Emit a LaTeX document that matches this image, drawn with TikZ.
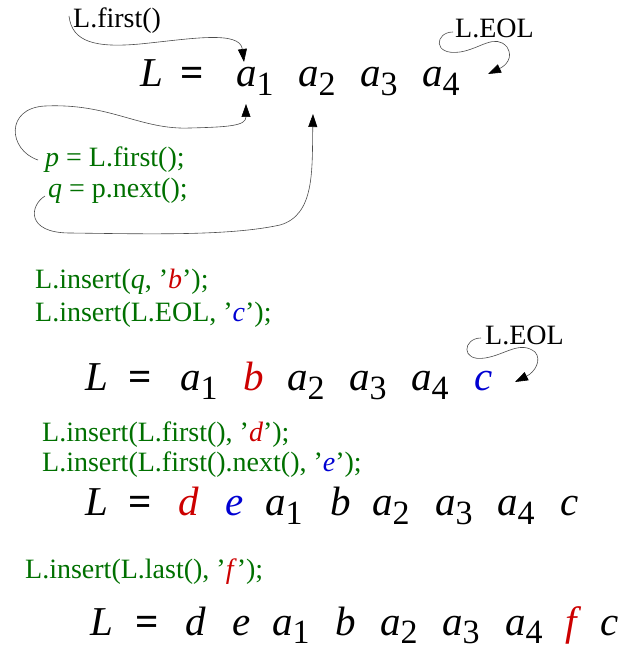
\documentclass[tikz,border=0pt]{standalone}
\usepackage{fontspec}
\setmainfont{Liberation Serif}
\usetikzlibrary{arrows.meta}
\definecolor{cgreen}{RGB}{0,112,0}
\definecolor{cred}{RGB}{204,0,0}
\definecolor{cblue}{RGB}{0,0,210}
\newcommand{\bigf}{\fontsize{41}{41}\selectfont}
\newcommand{\subf}{\fontsize{34}{34}\selectfont}
\newcommand{\labf}{\fontsize{28}{28}\selectfont}
\newcommand{\asub}[1]{\textit{a}\raisebox{-9pt}{\subf #1}}
\newcommand{\asubl}[1]{\textit{a}\raisebox{-8pt}{\subf #1}}
\newcommand{\eqs}{\textbf{=}}
\begin{document}
\begin{tikzpicture}[x=1pt,y=-1pt,
  sym/.style={anchor=base west,inner sep=0pt,font=\bigf},
  lab/.style={anchor=base west,inner sep=0pt,font=\labf},
  code/.style={lab,text=cgreen},
  conn/.style={line width=0.6pt,black!70},
  tip/.style={-{Triangle[length=13pt,width=9pt,color=black]}}]
\useasboundingbox (0,0) rectangle (619,650);
% Row 1
\node[sym] (r1L) at (140,87) {\textit{L}};
\node[sym] (r1eq) at (180,87) {\eqs};
\node[sym] (r1a1) at (236,87) {\asub{1}};
\node[sym] (r1a2) at (298,87) {\asub{2}};
\node[sym] (r1a3) at (360,87) {\asub{3}};
\node[sym] (r1a4) at (422,87) {\asub{4}};
\node[lab] (lfirst) at (73,28) {L.first()};
\node[lab] (leol1) at (455,38) {L.EOL};
\node[code] (cp) at (45,166) {\textit{p} = L.first();};
\node[code] (cq) at (48,197) {\textit{q} = p.next();};
% connectors row 1
\coordinate (s1) at (69,16);
\coordinate (t1) at (244,62);
\draw[conn,tip] (s1) .. controls (72,42) and (95,48) .. (140,44)
  .. controls (190,39) and (240,30) .. (t1);
\coordinate (s2) at (38,160);
\coordinate (t2) at (246,104);
\draw[conn,tip] (s2) .. controls (8,150) and (5,108) .. (45,106)
  .. controls (110,103) and (140,130) .. (190,128)
  .. controls (228,127) and (246,126) .. (t2);
\coordinate (s3) at (45,196);
\coordinate (t3) at (313,114);
\draw[conn,tip] (s3) .. controls (30,205) and (25,233) .. (70,233)
  .. controls (150,234) and (230,236) .. (280,225)
  .. controls (315,215) and (312,170) .. (t3);
\coordinate (s4) at (453,32);
\coordinate (t4) at (488,74);
\draw[conn,tip] (s4) .. controls (435,32) and (432,56) .. (460,52)
  .. controls (480,49) and (495,33) .. (507,47)
  .. controls (514,58) and (505,66) .. (t4);
% Row 2
\node[code] (c2a) at (35,288) {L.insert(\textit{q}, ’\textcolor{cred}{\textit{b}}’);};
\node[code] (c2b) at (35,321) {L.insert(L.EOL, ’\textcolor{cblue}{\textit{c}}’);};
\node[lab] (leol2) at (485,344) {L.EOL};
\node[sym] (r2L) at (85,390) {\textit{L}};
\node[sym] (r2eq) at (128,390) {\eqs};
\node[sym] (r2a1) at (180,390) {\asub{1}};
\node[sym,text=cred] (r2b) at (243,390) {\textit{b}};
\node[sym] (r2a2) at (287,390) {\asub{2}};
\node[sym] (r2a3) at (349,390) {\asub{3}};
\node[sym] (r2a4) at (411,390) {\asub{4}};
\node[sym,text=cblue] (r2c) at (474,390) {\textit{c}};
\coordinate (s5) at (481,338);
\coordinate (t5) at (515,382);
\draw[conn,tip] (s5) .. controls (463,338) and (460,362) .. (485,358)
  .. controls (505,355) and (520,340) .. (535,352)
  .. controls (542,360) and (535,372) .. (t5);
% Row 3
\node[code] (c3a) at (42,441) {L.insert(L.first(), ’\textcolor{cred}{\textit{d}}’);};
\node[code] (c3b) at (42,471) {L.insert(L.first().next(), ’\textcolor{cblue}{\textit{e}}’);};
\node[sym] (r3L) at (85,515) {\textit{L}};
\node[sym] (r3eq) at (128,515) {\eqs};
\node[sym,text=cred] (r3d) at (178,515) {\textit{d}};
\node[sym,text=cblue] (r3e) at (225,515) {\textit{e}};
\node[sym] (r3a1) at (265,515) {\asub{1}};
\node[sym] (r3b) at (330,515) {\textit{b}};
\node[sym] (r3a2) at (372,515) {\asub{2}};
\node[sym] (r3a3) at (435,515) {\asub{3}};
\node[sym] (r3a4) at (497,515) {\asub{4}};
\node[sym] (r3c) at (560,515) {\textit{c}};
% Row 4
\node[code] (c4) at (25,578) {L.insert(L.last(), ’\textcolor{cred}{\textit{f}}’);};
\node[sym] (r4L) at (90,635) {\textit{L}};
\node[sym] (r4eq) at (135,635) {\eqs};
\node[sym] (r4d) at (185,635) {\textit{d}};
\node[sym] (r4e) at (232,635) {\textit{e}};
\node[sym] (r4a1) at (272,635) {\asubl{1}};
\node[sym] (r4b) at (335,635) {\textit{b}};
\node[sym] (r4a2) at (380,635) {\asubl{2}};
\node[sym] (r4a3) at (442,635) {\asubl{3}};
\node[sym] (r4a4) at (505,635) {\asubl{4}};
\node[sym,text=cred] (r4f) at (565,635) {\textit{f}};
\node[sym] (r4c) at (600,635) {\textit{c}};
\end{tikzpicture}
\end{document}
